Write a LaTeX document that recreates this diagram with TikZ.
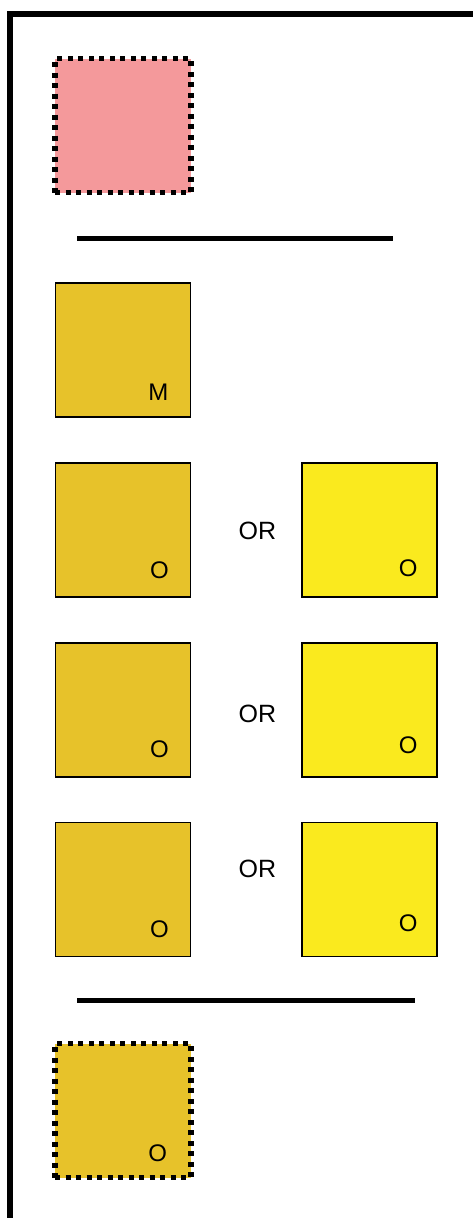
\documentclass[tikz,border=0pt]{standalone}
\usepackage{fontspec}
\setmainfont{Liberation Sans}
\usetikzlibrary{positioning,calc}
\definecolor{pinkfill}{RGB}{244,153,155}
\definecolor{goldfill}{RGB}{231,194,42}
\definecolor{lemonfill}{RGB}{250,234,30}

\begin{document}
\begin{tikzpicture}[
    x=1pt, y=-1pt,
    node distance=44pt and 110pt,
    tile/.style={rectangle, draw, line width=1.8pt, minimum width=135pt, minimum height=134pt, inner sep=0pt},
    goldtile/.style={tile, fill=goldfill},
    lemontile/.style={tile, fill=lemonfill},
    dottile/.style={tile, line width=5.5pt, dash pattern=on 5pt off 5.5pt, minimum width=136pt, minimum height=134pt},
    tag/.style={font=\fontsize{24}{26}\selectfont, inner sep=0pt},
    ortext/.style={font=\fontsize{25}{27}\selectfont, inner sep=0pt},
    rule/.style={draw, line width=5pt}
]
    \useasboundingbox (0,0) rectangle (473,1218);

    % Frame
    \draw[line width=6pt] (10,1218) -- (10,13.5) -- (473,13.5);

    % Nodes
    \node [dottile, fill=pinkfill] (spare) at (123,125.5) {};
    \draw [rule] (77,238) -- (393,238);

    \node [goldtile] (main) at (123,350) {};
    \node [goldtile, below=of main] (optA) {};
    \node [lemontile, right=of optA] (altA) {};
    \node [goldtile, below=of optA] (optB) {};
    \node [lemontile, right=of optB] (altB) {};
    \node [goldtile, below=of optB] (optC) {};
    \node [lemontile, right=of optC] (altC) {};

    \draw [rule] (77,1000) -- (415,1000);
    \node [dottile, fill=goldfill] (spareO) at (123,1110.5) {};

    % Tags
    \node [tag] (mainTag) at ($(main.south east)+(-33,-26)$) {M};
    \node [tag] (optATag) at ($(optA.south east)+(-32,-27)$) {O};
    \node [tag] (altATag) at ($(altA.south east)+(-30,-29)$) {O};
    \node [tag] (optBTag) at ($(optB.south east)+(-32,-28)$) {O};
    \node [tag] (altBTag) at ($(altB.south east)+(-30,-32)$) {O};
    \node [tag] (optCTag) at ($(optC.south east)+(-32,-28)$) {O};
    \node [tag] (altCTag) at ($(altC.south east)+(-30,-34)$) {O};
    \node [tag] (spareOTag) at ($(spareO.south east)+(-36,-27)$) {O};

    % OR labels
    \node [ortext] (orA) at ($(optA.east)+(66,1)$) {OR};
    \node [ortext] (orB) at ($(optB.east)+(66,4)$) {OR};
    \node [ortext] (orC) at ($(optC.east)+(66,-21)$) {OR};

\end{tikzpicture}
\end{document}
